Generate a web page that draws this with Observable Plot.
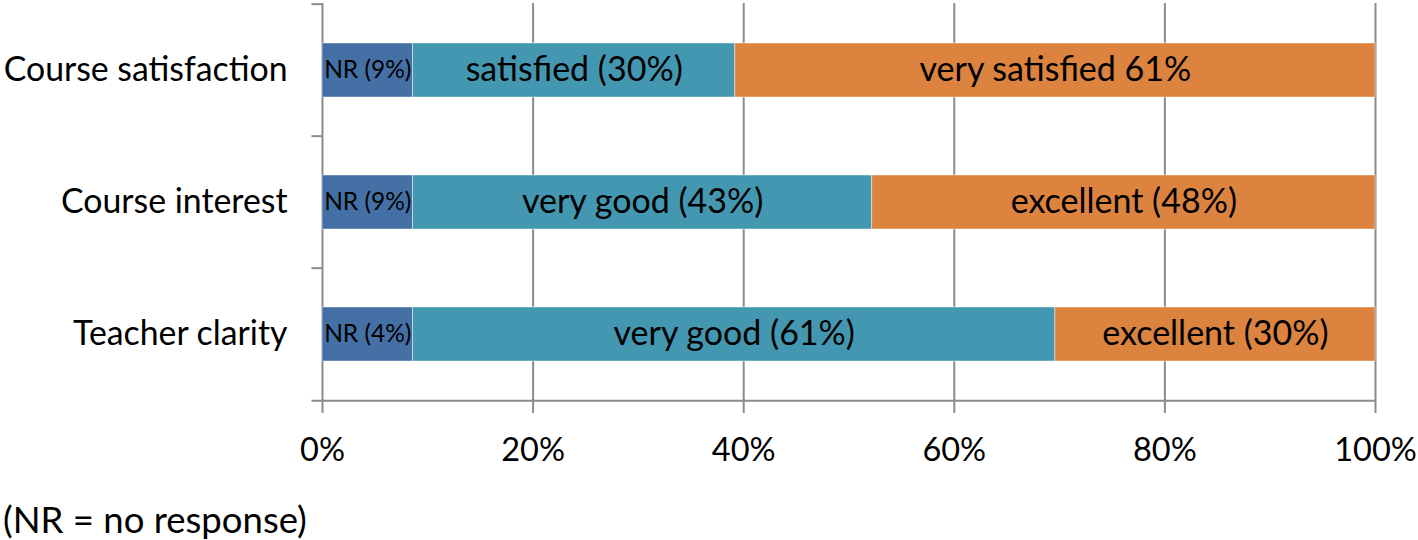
<!DOCTYPE html>
<html>
<head>
<meta charset="utf-8">
<script src="https://cdn.jsdelivr.net/npm/d3@7"></script>
<script src="https://cdn.jsdelivr.net/npm/@observablehq/plot@0.6"></script>
<style>
  html, body { margin: 0; padding: 0; background: #fff; }
  #chart svg { display: block; overflow: visible; }
  #caption { font-family: Lato, "Open Sans", sans-serif; font-size: 36.5px; line-height: 58px; padding-left: 3px; color: #000; white-space: nowrap; }
</style>
</head>
<body>
<div id="chart"></div>
<div id="caption">(NR = no response)</div>
<script>
const categories = ["Course satisfaction", "Course interest", "Teacher clarity"];
const segments = ["NR", "middle", "top"];
const nrValues = [8.6, 8.6, 8.6];
const middleValues = [30.6, 43.6, 61.0];
const topValues = [60.8, 47.8, 30.4];
const nrLabels = ["NR (9%)", "NR (9%)", "NR (4%)"];
const middleLabels = ["satisfied (30%)", "very good (43%)", "very good (61%)"];
const topLabels = ["very satisfied 61%", "excellent (48%)", "excellent (30%)"];
const xTicks = [0, 20, 40, 60, 80, 100];
const colors = ["#4470a6", "#4397b0", "#db833f"];

const rows = categories.flatMap((c, i) => [
  {category: c, segment: "NR", value: nrValues[i], label: nrLabels[i]},
  {category: c, segment: "middle", value: middleValues[i], label: middleLabels[i]},
  {category: c, segment: "top", value: topValues[i], label: topLabels[i]}
]);

const W = 1418, H = 490, mT = 3, mB = 89, mL = 322, mR = 43;
const step = (H - mT - mB) / categories.length;
const font = "Lato, 'Open Sans', sans-serif";
const gray = "#8c8c8c";

const chart = Plot.plot({
  width: W, height: H,
  marginTop: mT, marginBottom: mB, marginLeft: mL, marginRight: mR,
  style: {fontFamily: font, fontSize: "34px", color: "#000", background: "#fff", overflow: "visible"},
  x: {axis: null, domain: [0, 100]},
  y: {axis: null, domain: categories, padding: 0},
  color: {domain: segments, range: colors},
  marks: [
    Plot.ruleX(xTicks, {stroke: gray, strokeWidth: 2, insetBottom: -12}),
    Plot.ruleY(categories, {y: d => d, dy: -step / 2, x1: -1, x2: 0, stroke: gray, strokeWidth: 2}),
    Plot.ruleY([categories[categories.length - 1]], {y: d => d, dy: step / 2, x1: -1, x2: 100, stroke: gray, strokeWidth: 2}),
    Plot.axisX({ticks: xTicks, tickFormat: d => d + "%", tickSize: 0, tickPadding: 36, label: null, fontSize: 32.5, fill: "#000"}),
    Plot.axisY({tickSize: 0, tickPadding: 35, label: null, fontSize: 33.8, fill: "#000"}),
    Plot.barX(rows, Plot.stackX({
      y: "category", x: "value", fill: "segment", z: "segment", order: segments,
      insetTop: 39, insetBottom: 39, stroke: "#ffffff", strokeOpacity: 0.45, strokeWidth: 1
    })),
    Plot.text(rows, Plot.stackX({
      y: "category", x: "value", z: "segment", order: segments,
      text: d => d.segment === "NR" ? "" : d.label, fontSize: 34, fill: "#000"
    })),
    Plot.text(rows, Plot.stackX({
      y: "category", x: "value", z: "segment", order: segments,
      text: d => d.segment === "NR" ? d.label : "", fontSize: 24.5, fill: "#000"
    }))
  ]
});
document.getElementById("chart").appendChild(chart);
</script>
</body>
</html>
